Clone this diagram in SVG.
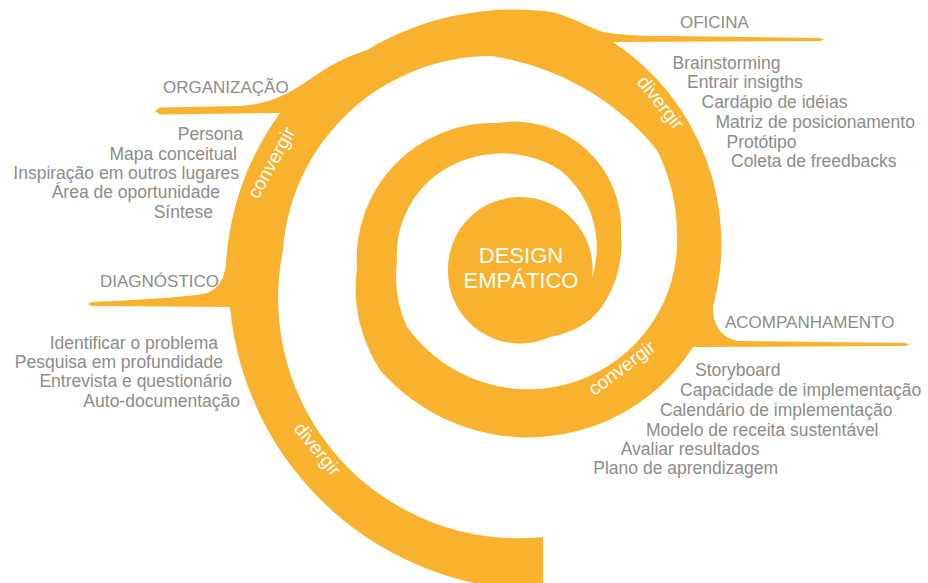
<svg xmlns="http://www.w3.org/2000/svg" width="928" height="583" viewBox="0 0 928 583">
<style>
.band{fill:#F8B22E}
.h{font-family:"Liberation Sans",Arial,sans-serif;font-size:17px;fill:#8c8c8c}
.li{font-family:"Liberation Sans",Arial,sans-serif;font-size:17.5px;fill:#8c8c8c}
.r{text-anchor:end}
.w{font-family:"Liberation Sans",Arial,sans-serif;font-size:19px;fill:#ffffff;text-anchor:middle}
.c{font-family:"Liberation Sans",Arial,sans-serif;font-size:22px;fill:#ffffff;text-anchor:middle}
</style>
<rect width="928" height="583" fill="#ffffff"/>
<g id="spiral">
<path class="band" d="M 543 537 L 543 590 A 311 311 0 0 1 230 307 L 92 306 L 88 304 L 92 302 C 140 300 190 297 207 293 C 218 289 224 280 226 264 A 289 289 0 0 1 280 113 L 160 114.5 L 155 111 L 160 107.5 L 240 106 C 272 104 292 92 313 77 C 330 65 348 56 367 50 A 289 289 0 0 1 545 11 C 565 13 585 26 603 32 C 625 36 650 36 670 36 L 820 38 L 824 39.5 L 820 41 L 613 42 A 242 242 0 0 1 713 307 C 713 322 718 337 738 341 L 905 343 L 909 344.5 L 905 346 L 693 347 A 196 196 0 0 1 380 370 A 150 150 0 0 1 357 268 A 136 136 0 0 1 497 123 A 107 107 0 0 1 621 235 A 110 110 0 0 1 603 305 C 592 322 575 332 550 337 A 72 72 0 0 1 448 270 A 72 72 0 0 1 520 197 A 72 72 0 0 1 592 278 A 100 100 0 0 0 560 170 A 110 110 0 0 0 430 180 A 100 100 0 0 0 397 262 A 120 120 0 0 0 407 327 A 149 149 0 0 0 677 233 A 190 190 0 0 0 657 150 A 264 264 0 0 0 491 56 A 209 209 0 0 0 283 250 A 240 240 0 0 0 543 537 Z"/>
</g>
<g id="center">
<text class="c" x="521" y="263">DESIGN</text>
<text class="c" x="521" y="288">EMPÁTICO</text>
</g>
<g id="diagnostico">
<text class="h" x="100" y="286.5">DIAGNÓSTICO</text>
<text class="li r" x="218" y="348.5">Identificar o problema</text>
<text class="li r" x="223" y="367.5">Pesquisa em profundidade</text>
<text class="li r" x="232" y="387">Entrevista e questionário</text>
<text class="li r" x="240" y="406.5">Auto-documentação</text>
<text class="w" transform="translate(316.5 450) rotate(51)" y="5">divergir</text>
</g>
<g id="organizacao">
<text class="h" x="163" y="93">ORGANIZAÇÃO</text>
<text class="li r" x="243" y="140">Persona</text>
<text class="li r" x="237" y="159.5">Mapa conceitual</text>
<text class="li r" x="239" y="178.5">Inspiração em outros lugares</text>
<text class="li r" x="220" y="198">Área de oportunidade</text>
<text class="li r" x="213" y="217.5">Síntese</text>
<text class="w" transform="translate(272.5 163.5) rotate(-61)" y="5">convergir</text>
</g>
<g id="oficina">
<text class="h" x="680" y="28.3">OFICINA</text>
<text class="li" x="672.5" y="68.5">Brainstorming</text>
<text class="li" x="687" y="88.3">Entrair insigths</text>
<text class="li" x="701.5" y="108.3">Cardápio de idéias</text>
<text class="li" x="715.5" y="128.3">Matriz de posicionamento</text>
<text class="li" x="726.5" y="147.5">Protótipo</text>
<text class="li" x="731" y="166.7">Coleta de freedbacks</text>
<text class="w" transform="translate(659.5 103.5) rotate(51.6)" y="5">divergir</text>
</g>
<g id="acompanhamento">
<text class="h" x="725" y="327.7">ACOMPANHAMENTO</text>
<text class="li" x="695" y="376">Storyboard</text>
<text class="li" x="680" y="396">Capacidade de implementação</text>
<text class="li" x="660" y="416">Calendário de implementação</text>
<text class="li" x="646" y="435.7">Modelo de receita sustentável</text>
<text class="li" x="620.7" y="455">Avaliar resultados</text>
<text class="li" x="593.3" y="474.3">Plano de aprendizagem</text>
<text class="w" transform="translate(622.5 369) rotate(-36.7)" y="5">convergir</text>
</g>
</svg>
